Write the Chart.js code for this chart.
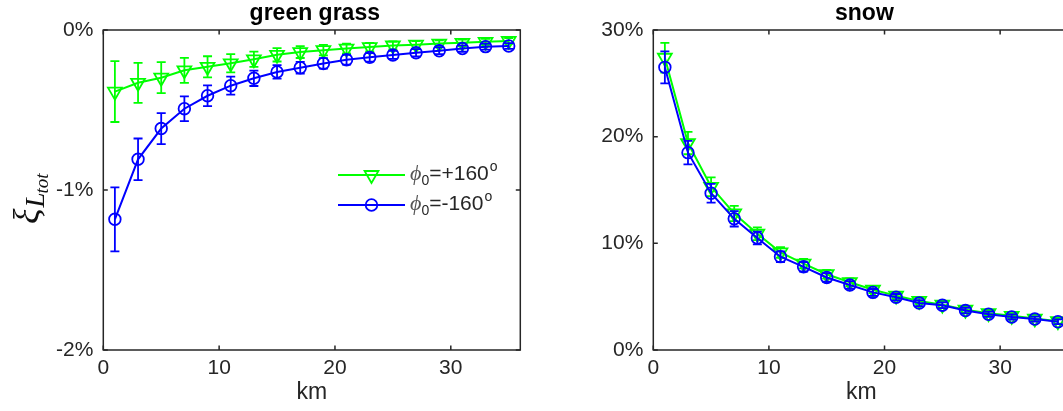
<!DOCTYPE html>
<html lang="en">
<head>
  <meta charset="UTF-8">
  <title>green grass / snow</title>
  <script src="https://cdn.jsdelivr.net/npm/chart.js"></script>
  <style>
    html, body {
      margin: 0;
      padding: 0;
      background: #fff;
      overflow: hidden;
    }
    canvas {
      position: absolute;
      top: 0;
    }
    #grass { left: 0; }
    #snow { left: 560px; }
  </style>
</head>
<body>
  <canvas id="grass" width="540" height="411"></canvas>
  <canvas id="snow" width="530" height="411"></canvas>

  <script>
    // distance (km) shared by both panels
    const km = [1, 3, 5, 7, 9, 11, 13, 15, 17, 19, 21, 23, 25, 27, 29, 31, 33, 35];

    // green grass, phi0 = +160 / -160 (percent)
    const grassPlus     = [-0.385, -0.33, -0.298, -0.252, -0.23, -0.208, -0.183, -0.155, -0.138, -0.126, -0.116, -0.107, -0.097, -0.092, -0.085, -0.08, -0.074, -0.068];
    const grassPlusErr  = [0.19, 0.125, 0.097, 0.078, 0.066, 0.057, 0.048, 0.042, 0.037, 0.033, 0.03, 0.027, 0.025, 0.023, 0.021, 0.02, 0.019, 0.018];
    const grassMinus    = [-1.183, -0.808, -0.616, -0.492, -0.411, -0.348, -0.302, -0.262, -0.236, -0.209, -0.186, -0.171, -0.156, -0.142, -0.13, -0.116, -0.104, -0.1];
    const grassMinusErr = [0.2, 0.13, 0.097, 0.077, 0.065, 0.056, 0.048, 0.042, 0.037, 0.033, 0.03, 0.027, 0.025, 0.023, 0.021, 0.02, 0.019, 0.018];

    // snow, phi0 = +160 / -160 (percent)
    const snowPlus     = [27.4, 19.4, 15.3, 12.8, 10.9, 9.15, 8.1, 7.1, 6.35, 5.65, 5.1, 4.6, 4.25, 3.78, 3.45, 3.2, 2.95, 2.7];
    const snowPlusErr  = [1.4, 1.05, 0.88, 0.72, 0.6, 0.5, 0.44, 0.4, 0.36, 0.32, 0.3, 0.28, 0.27, 0.26, 0.25, 0.24, 0.23, 0.23];
    const snowMinus    = [26.5, 18.5, 14.7, 12.3, 10.5, 8.75, 7.8, 6.8, 6.1, 5.4, 4.95, 4.4, 4.2, 3.7, 3.35, 3.1, 2.9, 2.65];
    const snowMinusErr = [1.5, 1.1, 0.88, 0.72, 0.6, 0.5, 0.44, 0.4, 0.36, 0.32, 0.3, 0.28, 0.27, 0.26, 0.25, 0.24, 0.23, 0.23];

    // tick labels
    const xTicks = [0, 10, 20, 30];
    const grassYTicks = [-2, -1, 0];
    const snowYTicks = [0, 10, 20, 30];

    const legendAngles = ['+160', '-160'];

    const axisColor = '#262626';
    const sans = "'Liberation Sans', Arial, sans-serif";
    const serif = "'Liberation Serif', 'Times New Roman', serif";

    // error bars, box with inward ticks, title, y label and legend
    const deco = {
      id: 'deco',
      beforeDatasetsDraw(chart, args, opts) {
        const ctx = chart.ctx;
        const a = chart.chartArea;
        const xs = chart.scales.x, ys = chart.scales.y;
        ctx.save();
        ctx.strokeStyle = axisColor;
        ctx.lineWidth = 1.5;
        ctx.strokeRect(a.left, a.top, a.right - a.left, a.bottom - a.top);
        ctx.beginPath();
        xs.ticks.forEach(t => {
          const px = xs.getPixelForValue(t.value);
          ctx.moveTo(px, a.bottom); ctx.lineTo(px, a.bottom - 4.5);
          ctx.moveTo(px, a.top); ctx.lineTo(px, a.top + 4.5);
        });
        ys.ticks.forEach(t => {
          const py = ys.getPixelForValue(t.value);
          ctx.moveTo(a.left, py); ctx.lineTo(a.left + 4.5, py);
          ctx.moveTo(a.right, py); ctx.lineTo(a.right - 4.5, py);
        });
        ctx.stroke();
        ctx.restore();
      },
      afterDatasetDraw(chart, args) {
        const ds = chart.data.datasets[args.index];
        if (!ds.err) return;
        const ctx = chart.ctx;
        const xs = chart.scales.x, ys = chart.scales.y;
        ctx.save();
        ctx.strokeStyle = ds.borderColor;
        ctx.lineWidth = 1.8;
        ctx.beginPath();
        ds.data.forEach((p, i) => {
          const px = xs.getPixelForValue(p.x);
          const y1 = ys.getPixelForValue(p.y - ds.err[i]);
          const y2 = ys.getPixelForValue(p.y + ds.err[i]);
          ctx.moveTo(px, y1); ctx.lineTo(px, y2);
          ctx.moveTo(px - 4.5, y1); ctx.lineTo(px + 4.5, y1);
          ctx.moveTo(px - 4.5, y2); ctx.lineTo(px + 4.5, y2);
        });
        ctx.stroke();
        ctx.restore();
      },
      afterDraw(chart, args, opts) {
        const ctx = chart.ctx;
        const a = chart.chartArea;
        ctx.save();
        // title
        ctx.fillStyle = '#000';
        ctx.font = 'bold 23px ' + sans;
        ctx.textAlign = 'center';
        ctx.textBaseline = 'alphabetic';
        ctx.fillText(opts.title, (a.left + a.right) / 2 + 3, 19.5);

        if (opts.ylabel) {
          ctx.save();
          ctx.translate(38, 224);
          ctx.rotate(-Math.PI / 2);
          ctx.textAlign = 'left';
          ctx.fillStyle = '#111';
          ctx.font = 'italic 36px ' + serif;
          ctx.fillText('ξ', 0, 0);
          const w1 = ctx.measureText('ξ').width;
          ctx.font = 'italic 27px ' + serif;
          ctx.fillText('L', w1 + 1, 6);
          const w2 = ctx.measureText('L').width;
          ctx.font = 'italic 19px ' + serif;
          ctx.fillText('tot', w1 + w2, 10);
          ctx.restore();
        }

        if (opts.legend) {
          const rows = [chart.data.datasets[0], chart.data.datasets[1]];
          rows.forEach((ds, i) => {
            const ly = 175 + i * 30;
            ctx.strokeStyle = ds.borderColor;
            ctx.fillStyle = 'rgba(0,0,0,0)';
            ctx.lineWidth = 2;
            ctx.beginPath();
            ctx.moveTo(338, ly); ctx.lineTo(405, ly);
            ctx.stroke();
            ctx.lineWidth = ds.pointBorderWidth;
            Chart.helpers.drawPoint(ctx, {
              pointStyle: ds.pointStyle, rotation: ds.pointRotation || 0,
              radius: ds.pointRadius, borderWidth: ds.pointBorderWidth
            }, 371.5, ly);
            let tx = 410;
            const base = ly + 5;
            ctx.textAlign = 'left';
            ctx.fillStyle = '#555';
            ctx.font = 'italic 22px ' + serif;
            ctx.fillText('ϕ', tx, base);
            tx += ctx.measureText('ϕ').width;
            ctx.fillStyle = axisColor;
            ctx.font = '14px ' + sans;
            ctx.fillText('0', tx, base + 5);
            tx += ctx.measureText('0').width;
            ctx.font = '21px ' + sans;
            const txt = '=' + legendAngles[i];
            ctx.fillText(txt, tx, base);
            tx += ctx.measureText(txt).width;
            ctx.font = '14px ' + sans;
            ctx.fillText('o', tx + 1, base - 9);
          });
        }
        ctx.restore();
      }
    };

    function series(label, ys, err, color, style) {
      const d = {
        label: label,
        data: km.map((x, i) => ({ x: x, y: ys[i] })),
        err: err,
        borderColor: color,
        borderWidth: 2,
        pointBorderColor: color,
        pointBackgroundColor: 'rgba(0,0,0,0)',
        pointBorderWidth: 1.8,
        tension: 0
      };
      if (style === 'down') {
        d.pointStyle = 'triangle';
        d.pointRotation = 180;
        d.pointRadius = 8;
        d.order = 1;
      } else {
        d.pointStyle = 'circle';
        d.pointRadius = 5.8;
        d.order = 0;
      }
      return d;
    }

    function makeChart(id, title, plus, plusErr, minus, minusErr, yTicks, axisWidth, padRight, showLabel) {
      return new Chart(document.getElementById(id), {
        type: 'line',
        data: {
          datasets: [
            series('ϕ0=+160°', plus, plusErr, '#00ff00', 'down'),
            series('ϕ0=-160°', minus, minusErr, '#0000ff', 'circle')
          ]
        },
        plugins: [deco],
        options: {
          responsive: false,
          animation: false,
          events: [],
          layout: { padding: { top: 30, right: padRight, left: 0, bottom: 0 } },
          plugins: {
            legend: { display: false },
            tooltip: { enabled: false },
            deco: { title: title, ylabel: showLabel, legend: showLabel }
          },
          scales: {
            x: {
              type: 'linear',
              min: 0,
              max: 36,
              afterBuildTicks: s => { s.ticks = xTicks.map(v => ({ value: v })); },
              afterFit: s => { s.height = 61; },
              grid: { display: false, drawTicks: false },
              border: { display: false },
              ticks: { color: axisColor, padding: 6, maxRotation: 0, font: { family: sans, size: 21 } },
              title: {
                display: true, text: 'km', color: axisColor,
                font: { family: sans, size: 23 }, padding: { top: 0, bottom: 5 }
              }
            },
            y: {
              min: yTicks[0],
              max: yTicks[yTicks.length - 1],
              afterBuildTicks: s => { s.ticks = yTicks.map(v => ({ value: v })); },
              afterFit: s => { s.width = axisWidth; },
              grid: { display: false, drawTicks: false },
              border: { display: false },
              ticks: { color: axisColor, padding: 10, font: { family: sans, size: 21 }, callback: v => v + '%' }
            }
          }
        }
      });
    }

    makeChart('grass', 'green grass', grassPlus, grassPlusErr, grassMinus, grassMinusErr, grassYTicks, 103.3, 19.7, true);
    makeChart('snow', 'snow', snowPlus, snowPlusErr, snowMinus, snowMinusErr, snowYTicks, 93.3, 20.5, false);
  </script>
</body>
</html>
